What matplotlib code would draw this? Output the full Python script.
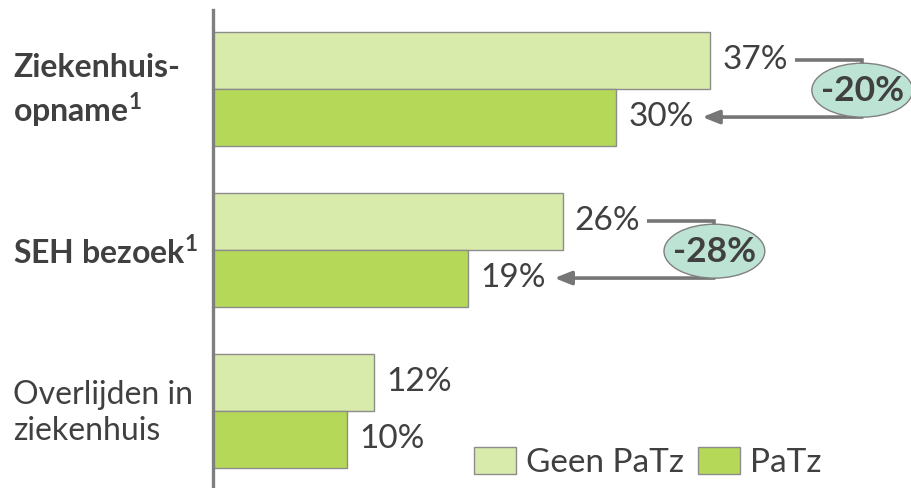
import matplotlib
matplotlib.use("Agg")
import matplotlib.pyplot as plt
from matplotlib.patches import Patch, Ellipse
import numpy as np

plt.rcParams['font.family'] = ['Lato', 'DejaVu Sans']
plt.rcParams['mathtext.fontset'] = 'custom'
plt.rcParams['mathtext.rm'] = 'Lato'
plt.rcParams['mathtext.bf'] = 'Lato:bold'

categories = ["Ziekenhuis-\nopname$^{\\mathbf{1}}$", "SEH bezoek$^{\\mathbf{1}}$", "Overlijden in\nziekenhuis"]
cat_bold = [True, True, False]
geen_patz = [37, 26, 12]
patz = [30, 19, 10]
changes = ["-20%", "-28%", None]
series_names = ["Geen PaTz", "PaTz"]

c_light = "#D9EBAB"
c_dark = "#B5D858"
c_edge = "#8C8C8C"
c_text = "#404040"
c_arrow = "#767676"
c_ell = "#BDE3D5"

fig = plt.figure(figsize=(9.12, 4.88), dpi=100)
ax = fig.add_axes([213/912, 0, 1 - 213/912, 478/488])

y = np.arange(len(categories))
h = 0.354
ax.barh(y - h/2, geen_patz, height=h, color=c_light, edgecolor=c_edge, linewidth=1)
ax.barh(y + h/2, patz, height=h, color=c_dark, edgecolor=c_edge, linewidth=1)

ax.set_xlim(0, 52.0)
ax.set_ylim(2.481, -0.488)

for s in ["top", "right", "bottom"]:
    ax.spines[s].set_visible(False)
ax.spines["left"].set_color("#7F7F7F")
ax.spines["left"].set_linewidth(2.4)
ax.set_xticks([])
ax.set_yticks([])

fs = 24
cfs = 23
efs = 25.5
for i in range(len(categories)):
    ax.text(geen_patz[i] + 0.9, y[i] - h/2, f"{geen_patz[i]}%", va="center", ha="left",
            fontsize=fs, color=c_text)
    ax.text(patz[i] + 0.9, y[i] + h/2, f"{patz[i]}%", va="center", ha="left",
            fontsize=fs, color=c_text)
    fig.text(13/912, 1 - (91 + 161*i)/488, categories[i], ha="left", va="center",
             fontsize=cfs, color=c_text, fontweight="bold" if cat_bold[i] else "normal",
             linespacing=1.25)
    if changes[i]:
        xv = geen_patz[i] + 11.3
        x0 = geen_patz[i] + 6.3
        x1 = patz[i] + 6.4
        ax.plot([x0, xv, xv], [y[i] - h/2, y[i] - h/2, y[i] + h/2], color=c_arrow,
                lw=2.6, solid_capstyle="butt", solid_joinstyle="miter", zorder=3)
        ax.annotate("", xy=(x1, y[i] + h/2), xytext=(xv, y[i] + h/2),
                    arrowprops=dict(arrowstyle="-|>,head_length=1.0,head_width=0.4",
                                    color=c_arrow, lw=2.6, shrinkA=0, shrinkB=0), zorder=3)
        ell = Ellipse((xv, y[i] + 0.01), width=7.5, height=0.335, facecolor=c_ell,
                      edgecolor="#808080", linewidth=1, zorder=4, clip_on=False)
        ax.add_patch(ell)
        ax.text(xv, y[i] + 0.015, changes[i], ha="center", va="center", fontsize=efs,
                fontweight="bold", color=c_text, zorder=5)

handles = [Patch(facecolor=c_light, edgecolor=c_edge, linewidth=1),
           Patch(facecolor=c_dark, edgecolor=c_edge, linewidth=1)]
fig.legend(handles, series_names, loc="lower left", bbox_to_anchor=(474/912, 10/488),
           ncol=2, frameon=False, fontsize=fs, handlelength=1.26, handleheight=0.9,
           handletextpad=0.3, columnspacing=0.42, borderpad=0, borderaxespad=0,
           labelcolor=c_text)

fig.savefig("out.png", dpi=100)
